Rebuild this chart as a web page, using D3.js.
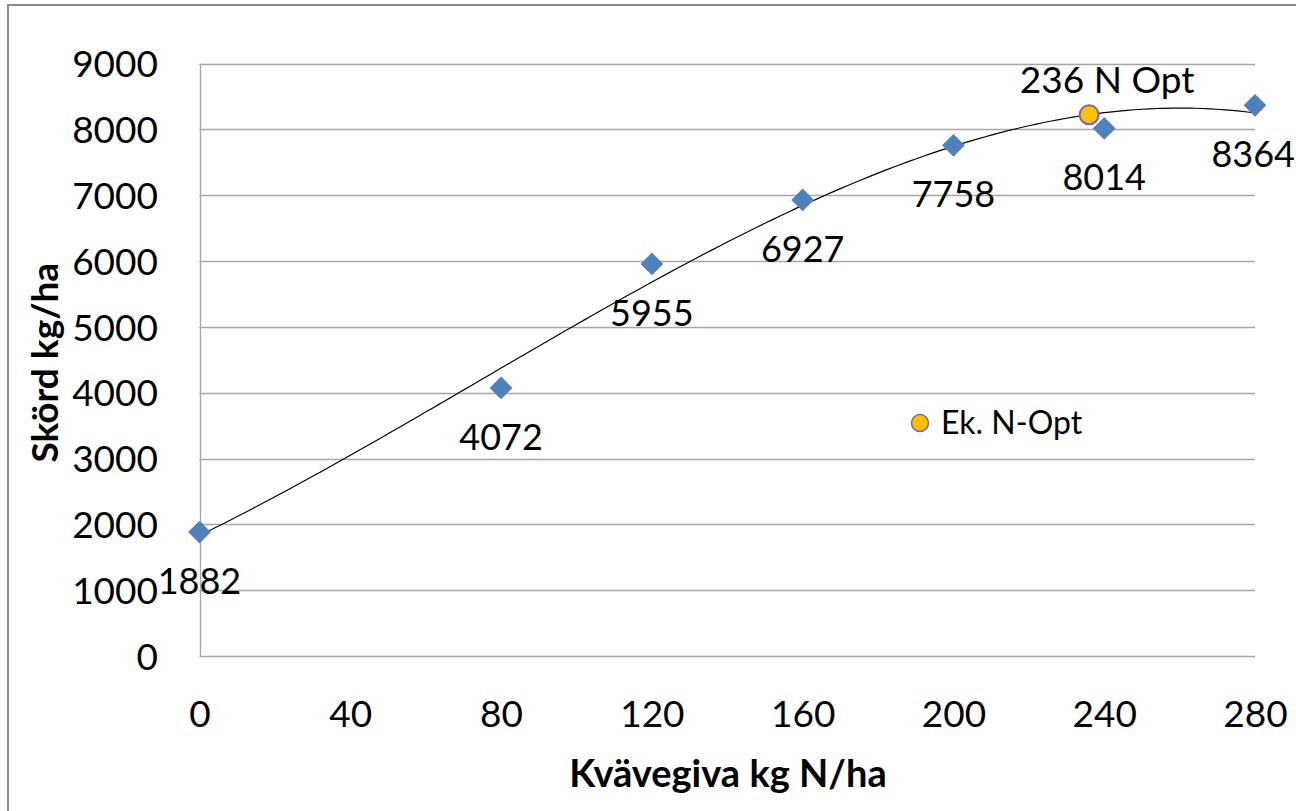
<!DOCTYPE html>
<html>
<head>
<meta charset="utf-8">
<script src="https://cdn.jsdelivr.net/npm/d3@7"></script>
<style>
  html, body { margin: 0; padding: 0; background: #fff; }
  svg { display: block; }
  text { font-family: Lato, "Open Sans", sans-serif; fill: #000; }
</style>
</head>
<body>
<svg id="chart" width="1296" height="811"></svg>
<script>
// Nitrogen rate (kg N/ha) and yield (kg/ha)
const nitrogen = [0, 80, 120, 160, 200, 240, 280];
const yieldKg = [1882, 4072, 5955, 6927, 7758, 8014, 8364];

// Economic nitrogen optimum
const optX = [236];
const optY = [8220];
const optLabels = ["236 N Opt"];
const legendLabel = "Ek. N-Opt";

const xTicks = [0, 40, 80, 120, 160, 200, 240, 280];
const yTicks = [0, 1000, 2000, 3000, 4000, 5000, 6000, 7000, 8000, 9000];

const svg = d3.select("#chart");
const W = 1296, H = 811;

// Chart frame
svg.append("rect")
  .attr("x", 8).attr("y", 5)
  .attr("width", W + 10).attr("height", H + 10)
  .attr("fill", "#fff").attr("stroke", "#8c8c8c").attr("stroke-width", 2);

const x = d3.scaleLinear().domain([0, 280]).range([199.5, 1255]);
const y = d3.scaleLinear().domain([0, 9000]).range([656, 63.5]);

// Horizontal gridlines
svg.append("g")
  .selectAll("line")
  .data(yTicks)
  .join("line")
  .attr("x1", x(0)).attr("x2", x(280))
  .attr("y1", d => Math.round(y(d)) + 0.5).attr("y2", d => Math.round(y(d)) + 0.5)
  .attr("stroke", "#a6a6a6").attr("stroke-width", 1.3);

// Vertical axis line
svg.append("line")
  .attr("x1", Math.round(x(0)) + 0.5).attr("x2", Math.round(x(0)) + 0.5)
  .attr("y1", y(9000)).attr("y2", y(0))
  .attr("stroke", "#a6a6a6").attr("stroke-width", 1.3);

// Y tick labels
const yAxis = d3.axisLeft(y).tickValues(yTicks).tickFormat(d3.format("d")).tickSize(0).tickPadding(0);
const gy = svg.append("g").attr("transform", "translate(158,0)").call(yAxis);
gy.select(".domain").remove();
gy.selectAll("text")
  .attr("font-family", "Lato, sans-serif")
  .attr("font-size", 37)
  .attr("fill", "#000")
  .attr("dy", "0.36em");

// X tick labels
const xAxis = d3.axisBottom(x).tickValues(xTicks).tickFormat(d3.format("d")).tickSize(0).tickPadding(0);
const gx = svg.append("g").attr("transform", "translate(0,700)").call(xAxis);
gx.select(".domain").remove();
gx.selectAll("text")
  .attr("font-family", "Lato, sans-serif")
  .attr("font-size", 37)
  .attr("fill", "#000")
  .attr("dy", "0.72em");

// Axis titles
svg.append("text")
  .attr("transform", `translate(58,${y(4500) + 3}) rotate(-90)`)
  .attr("text-anchor", "middle")
  .attr("font-weight", "bold")
  .attr("font-size", 37)
  .text("Skörd kg/ha");

svg.append("text")
  .attr("x", 728).attr("y", 787)
  .attr("text-anchor", "middle")
  .attr("font-weight", "bold")
  .attr("font-size", 38)
  .text("Kvävegiva kg N/ha");

// Cubic polynomial trendline fitted by least squares
function polyFit(xs, ys, deg) {
  const n = deg + 1;
  const A = Array.from({ length: n }, () => new Array(n + 1).fill(0));
  for (let i = 0; i < xs.length; i++) {
    for (let r = 0; r < n; r++) {
      for (let c = 0; c < n; c++) A[r][c] += Math.pow(xs[i], r + c);
      A[r][n] += ys[i] * Math.pow(xs[i], r);
    }
  }
  for (let k = 0; k < n; k++) {
    let p = k;
    for (let r = k + 1; r < n; r++) if (Math.abs(A[r][k]) > Math.abs(A[p][k])) p = r;
    [A[k], A[p]] = [A[p], A[k]];
    for (let r = 0; r < n; r++) {
      if (r === k) continue;
      const f = A[r][k] / A[k][k];
      for (let c = k; c <= n; c++) A[r][c] -= f * A[k][c];
    }
  }
  return A.map((row, i) => row[n] / row[i]);
}
const coef = polyFit(nitrogen, yieldKg, 3);
const trend = v => coef.reduce((s, c, i) => s + c * Math.pow(v, i), 0);
const trendPts = d3.range(0, 280.01, 2).map(v => [v, trend(v)]);

svg.append("path")
  .datum(trendPts)
  .attr("fill", "none")
  .attr("stroke", "#000")
  .attr("stroke-width", 1.2)
  .attr("d", d3.line().x(d => x(d[0])).y(d => y(d[1])).curve(d3.curveMonotoneX));

// Yield markers (diamonds)
const pts = nitrogen.map((n, i) => ({ n, v: yieldKg[i] }));
svg.append("g")
  .selectAll("path")
  .data(pts)
  .join("path")
  .attr("d", d3.symbol(d3.symbolDiamond2, 330))
  .attr("transform", d => `translate(${x(d.n)},${y(d.v)})`)
  .attr("fill", "#4f81bd");

// Value labels below markers, kept inside the frame
const valueLabels = svg.append("g")
  .selectAll("text")
  .data(pts)
  .join("text")
  .attr("x", d => x(d.n))
  .attr("y", d => y(d.v) + 62)
  .attr("text-anchor", "middle")
  .attr("font-size", 36)
  .text(d => d.v);
valueLabels.each(function () {
  const b = this.getBBox();
  const over = b.x + b.width - (W - 1);
  if (over > 0) d3.select(this).attr("x", +d3.select(this).attr("x") - over);
});

// Optimum marker and label
const opt = optX.map((v, i) => ({ n: v, v: optY[i], label: optLabels[i] }));
svg.append("g")
  .selectAll("circle")
  .data(opt)
  .join("circle")
  .attr("cx", d => x(d.n)).attr("cy", d => y(d.v))
  .attr("r", 9.5)
  .attr("fill", "#ffc000")
  .attr("stroke", "#8064a2").attr("stroke-width", 2);

svg.append("g")
  .selectAll("text")
  .data(opt)
  .join("text")
  .attr("x", d => x(d.n) + 18)
  .attr("y", d => y(d.v) - 22)
  .attr("text-anchor", "middle")
  .attr("font-size", 37)
  .text(d => d.label);

// Legend
svg.append("circle")
  .attr("cx", 920).attr("cy", 423).attr("r", 8.5)
  .attr("fill", "#ffc000").attr("stroke", "#8064a2").attr("stroke-width", 1.5);
svg.append("text")
  .attr("x", 941).attr("y", 434)
  .attr("font-size", 32)
  .text(legendLabel);
</script>
</body>
</html>
